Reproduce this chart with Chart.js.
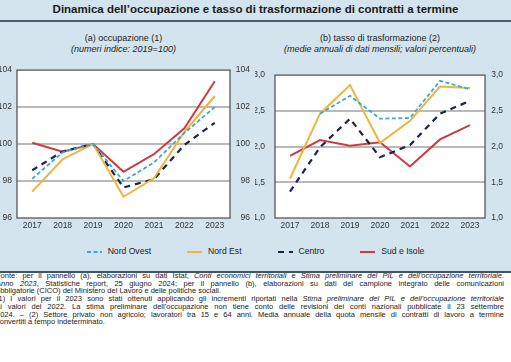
<!DOCTYPE html>
<html lang="it">
<head>
<meta charset="utf-8">
<title>Dinamica dell’occupazione e tasso di trasformazione</title>
<script src="https://cdn.jsdelivr.net/npm/chart.js@4.4.1/dist/chart.umd.min.js"></script>
<style>
  body { margin: 0; width: 511px; height: 362px; overflow: hidden; background: #fff; position: relative;
         font-family: "Liberation Sans", Arial, sans-serif; color: #222; }
  #fondo { position: absolute; left: 0; top: 0; width: 511px; height: 271px; background: #d3e4ee;
           border-bottom: 2px solid #3e5568; }
  #titolo { position: absolute; left: 0; top: 3px; width: 511px; text-align: center; font-weight: bold;
            font-size: 11.5px; color: #1a1a1a; }
  #riga { position: absolute; left: 0; top: 20px; width: 511px; height: 2px; background: #4a6072; }
  .sub { position: absolute; top: 33px; text-align: center; font-size: 9px; line-height: 11px; color: #222; }
  canvas { position: absolute; }
  #legenda { position: absolute; left: 0; top: 246px; width: 511px; display: flex; justify-content: center;
             gap: 36px; font-size: 8.6px; line-height: 11px; color: #222; }
  #legenda span.voce { display: flex; align-items: center; gap: 6px; }
  #note { position: absolute; left: -4px; top: 272px; width: 508px; font-size: 7.5px; line-height: 7.7px; color: #1a1a1a; }
  #note div { text-align: justify; text-align-last: justify; }
  #note div.fine { text-align-last: left; }
</style>
</head>
<body>
<div id="fondo"></div>
<div id="titolo">Dinamica dell’occupazione e tasso di trasformazione di contratti a termine</div>
<div id="riga"></div>
<div class="sub" style="left:0;width:247px">(a) occupazione (1)<br><i>(numeri indice: 2019=100)</i></div>
<div class="sub" style="left:250px;width:260px">(b) tasso di trasformazione (2)<br><i>(medie annuali di dati mensili; valori percentuali)</i></div>

<canvas id="graficoA" width="255" height="180" style="left:0;top:60px"></canvas>
<canvas id="graficoB" width="256" height="180" style="left:255px;top:60px"></canvas>

<div id="legenda"></div>

<div id="note">
  <div>Fonte: per il pannello (a), elaborazioni su dati Istat, <i>Conti economici territoriali</i> e <i>Stima preliminare del PIL e dell’occupazione territoriale.</i></div>
  <div><i>Anno 2023</i>, Statistiche report, 25 giugno 2024; per il pannello (b), elaborazioni su dati del campione integrato delle comunicazioni</div>
  <div class="fine">obbligatorie (CICO) del Ministero del Lavoro e delle politiche sociali.</div>
  <div>(1) I valori per il 2023 sono stati ottenuti applicando gli incrementi riportati nella <i>Stima preliminare del PIL e dell’occupazione territoriale</i></div>
  <div>ai valori del 2022. La stima preliminare dell’occupazione non tiene conto delle revisioni dei conti nazionali pubblicate il 23 settembre</div>
  <div>2024. – (2) Settore privato non agricolo; lavoratori tra 15 e 64 anni. Media annuale della quota mensile di contratti di lavoro a termine</div>
  <div class="fine">convertiti a tempo indeterminato.</div>
</div>

<script>
const anni = ['2017', '2018', '2019', '2020', '2021', '2022', '2023'];
const tickOccupazione = [96, 98, 100, 102, 104];
const tickTrasformazione = [1.0, 1.5, 2.0, 2.5, 3.0];
const aree = ['Nord Ovest', 'Nord Est', 'Centro', 'Sud e Isole'];

// (a) occupazione, numeri indice 2019=100
const occNordOvest = [98.12, 99.55, 100, 98.0, 99.0, 100.6, 102.0];
const occNordEst = [97.43, 99.18, 100, 97.15, 98.15, 100.65, 102.6];
const occCentro = [98.58, 99.6, 100, 97.65, 98.1, 99.95, 101.15];
const occSud = [100.07, 99.58, 100, 98.5, 99.45, 100.85, 103.4];

// (b) tasso di trasformazione, valori percentuali
const trasNordOvest = [null, 2.46, 2.71, 2.39, 2.40, 2.92, 2.80];
const trasNordEst = [1.55, 2.46, 2.86, 2.05, 2.36, 2.84, 2.82];
const trasCentro = [1.37, 1.99, 2.39, 1.85, 2.02, 2.46, 2.64];
const trasSud = [1.87, 2.09, 2.01, 2.06, 1.72, 2.10, 2.30];

// stile delle linee per area
const colori = ['#3ea8d5', '#f0b43c', '#1d2446', '#cf3a3f'];
const tratteggi = [[4, 2.5], [], [6, 5], []];
const spessori = [1.8, 2, 2.2, 2];

const font = { family: '"Liberation Sans", Arial, sans-serif', size: 8.5 };

// sfondo bianco e cornice dell'area del grafico
const cornice = {
    id: 'cornice',
    beforeDraw(chart) {
        const a = chart.chartArea;
        chart.ctx.save();
        chart.ctx.fillStyle = '#fff';
        chart.ctx.fillRect(a.left, a.top, a.right - a.left, a.bottom - a.top);
        chart.ctx.restore();
    },
    afterDraw(chart) {
        const a = chart.chartArea;
        const ctx = chart.ctx;
        ctx.save();
        ctx.strokeStyle = '#4b4b4b';
        ctx.lineWidth = 1.2;
        ctx.strokeRect(a.left, a.top, a.right - a.left, a.bottom - a.top);
        ctx.restore();
    }
};

const asseY = (posizione, ticks, larghezza, spazio, formato) => ({
    type: 'linear',
    position: posizione,
    min: ticks[0],
    max: ticks[ticks.length - 1],
    afterBuildTicks: (scala) => { scala.ticks = ticks.map((v) => ({ value: v })); },
    afterFit: (scala) => { scala.width = larghezza; },
    border: { display: false },
    grid: {
        display: posizione === 'left',
        drawTicks: false,
        lineWidth: 2,
        color: (c) => (c.index === 0 || c.index === ticks.length - 1) ? 'rgba(0,0,0,0)' : '#b9b9b9'
    },
    ticks: {
        padding: spazio,
        crossAlign: posizione === 'right' ? 'far' : 'near',
        color: '#333',
        font: font,
        callback: formato
    }
});

const creaGrafico = (id, serie, ticks, margini, formato) => {
    new Chart(document.getElementById(id), {
        type: 'line',
        data: {
            labels: anni,
            datasets: serie.map((valori, i) => ({
                label: aree[i],
                data: valori,
                borderColor: colori[i],
                borderDash: tratteggi[i],
                borderWidth: spessori[i],
                pointRadius: 0,
                tension: 0,
                fill: false
            }))
        },
        options: {
            responsive: false,
            animation: false,
            devicePixelRatio: 1,
            layout: { padding: { top: 10, right: margini.destra, left: 0, bottom: 0 } },
            plugins: { legend: { display: false }, tooltip: { enabled: false } },
            scales: {
                x: {
                    offset: true,
                    afterFit: (scala) => { scala.height = 22; },
                    grid: { display: false, drawTicks: false },
                    border: { display: false },
                    ticks: { padding: 3, color: '#333', font: font, maxRotation: 0 }
                },
                y: asseY('left', ticks, margini.sx, margini.spazioSx, formato),
                y2: asseY('right', ticks, margini.dx, 0, formato)
            }
        },
        plugins: [cornice]
    });
};

creaGrafico('graficoA', [occNordOvest, occNordEst, occCentro, occSud], tickOccupazione,
    { sx: 17, spazioSx: 5, dx: 20, destra: 5 }, (v) => v);
creaGrafico('graficoB', [trasNordOvest, trasNordEst, trasCentro, trasSud], tickTrasformazione,
    { sx: 20, spazioSx: 10, dx: 18, destra: 8 }, (v) => v.toFixed(1).replace('.', ','));

// legenda comune ai due pannelli
const legenda = document.getElementById('legenda');
aree.forEach((nome, i) => {
    const voce = document.createElement('span');
    voce.className = 'voce';
    const campione = document.createElement('canvas');
    campione.width = 15;
    campione.height = 4;
    campione.style.position = 'static';
    const c = campione.getContext('2d');
    c.strokeStyle = colori[i];
    c.lineWidth = spessori[i];
    c.setLineDash(tratteggi[i]);
    c.beginPath();
    c.moveTo(0, 2);
    c.lineTo(15, 2);
    c.stroke();
    voce.appendChild(campione);
    voce.appendChild(document.createTextNode(nome));
    legenda.appendChild(voce);
});
</script>
</body>
</html>
